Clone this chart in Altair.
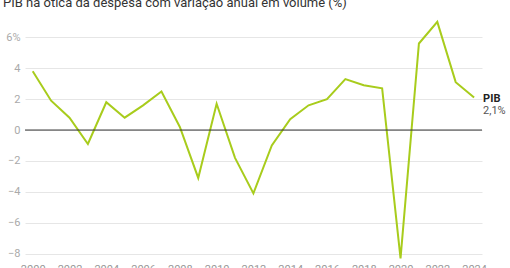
import altair as alt
import pandas as pd

years = list(range(2000, 2025))
pib = [3.8, 1.9, 0.8, -0.9, 1.8, 0.8, 1.6, 2.5, 0.2, -3.1, 1.7, -1.8, -4.1, -1.0,
       0.7, 1.6, 2.0, 3.3, 2.9, 2.7, -8.3, 5.6, 7.0, 3.1, 2.1]
y_ticks = [-8, -6, -4, -2, 0, 2, 4, 6]
x_ticks = list(range(2000, 2025, 2))

df = pd.DataFrame({"ano": years, "pib": pib})
last = df.tail(1).assign(nome="PIB", valor="2,1%")

LINE = "#a8cc1c"
FONT = "Roboto"

xs = alt.Scale(domain=[1999.58, 2024.43], nice=False, zero=False)
ys = alt.Scale(domain=[-8.41, 7.51], nice=False, zero=False)

x_axis = alt.Axis(values=x_ticks, format="d", grid=False, ticks=False, domain=False,
                  labelColor="#999999", labelFontSize=11, labelPadding=3, title=None,
                  labelFont=FONT, labelOverlap=False)
y_axis = alt.Axis(values=y_ticks, grid=True, gridColor="#e6e6e6", ticks=False, domain=False,
                  labelColor="#aaaaaa", labelFontSize=11, labelPadding=5, title=None,
                  labelFont=FONT, labelOverlap=False,
                  labelExpr="datum.value == 6 ? '6%' : replace(datum.label, '-', '\u2212')")

X = alt.X("ano:Q", scale=xs, axis=x_axis)
Y = alt.Y("pib:Q", scale=ys, axis=y_axis)

line = alt.Chart(df).mark_line(color=LINE, strokeWidth=2, clip=True).encode(x=X, y=Y)

zero = alt.Chart(pd.DataFrame({"z": [0]})).mark_rule(color="#333333", strokeWidth=1).encode(
    y=alt.Y("z:Q", scale=ys, axis=y_axis)
)

lbl_name = alt.Chart(last).mark_text(align="left", baseline="middle", dx=9, dy=1,
                                     fontWeight="bold", fontSize=11, color="#222222",
                                     font=FONT).encode(x=X, y=Y, text="nome:N")
lbl_val = alt.Chart(last).mark_text(align="left", baseline="middle", dx=9, dy=13,
                                    fontSize=11, color="#555555", font=FONT).encode(
    x=X, y=Y, text="valor:N")

chart = alt.layer(line, zero, lbl_name, lbl_val).properties(
    width=457, height=246,
    title=alt.TitleParams(
        "PIB na ótica da despesa com variação anual em volume (%)",
        anchor="start", fontSize=13, fontWeight="normal", color="#333333",
        font=FONT, dx=-22, dy=-4, offset=0, frame="group"),
    autosize=alt.AutoSizeParams(type="none"),
    padding={"left": 25, "top": 14, "right": 28, "bottom": 8},
).configure_view(stroke=None).configure_axis(labelOverlap=False)

chart.save("out.html", embed_options={"renderer": "svg", "actions": False})
